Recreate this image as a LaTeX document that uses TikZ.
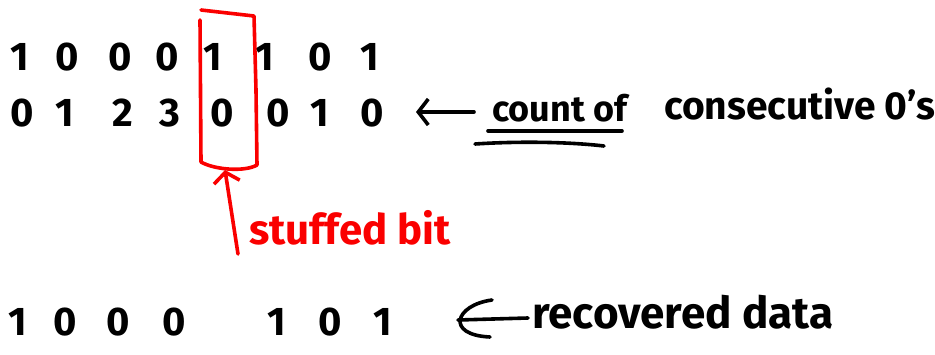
\documentclass[tikz,border=0pt]{standalone}
\usepackage{fontspec}
\setmainfont{Fira Sans}
\usetikzlibrary{arrows.meta}
\tikzset{
  ink/.style={line width=3.6pt, line cap=round, line join=round},
  redink/.style={ink, draw=penred},
  digit/.style={font=\fontsize{40}{40}\selectfont\bfseries, inner sep=0pt, anchor=center},
  note/.style={font=\fontsize{#1}{#1}\selectfont\bfseries, inner sep=0pt},
  barb/.style={-{Straight Barb[length=10pt,width=26pt,line width=3.6pt]}},
}
\definecolor{penred}{RGB}{250,0,0}
\begin{document}
\begin{tikzpicture}[x=1pt,y=-1pt]
\useasboundingbox (0,0) rectangle (935,354);
% top row: stuffed bit stream
\foreach \x/\d [count=\i] in {20/1,67/0,120/0,167/0,213/1,265/1,320/0,370/1}
  \node[digit] (t\i) at (\x,57) {\d};
% second row: running count of consecutive zeros
\foreach \x/\d [count=\i] in {22/0,65/1,123/2,170/3,222/0,278/0,320/1,372/0}
  \node[digit] (c\i) at (\x,113) {\d};
% box around the stuffed bit
\draw[redink] (201,10) -- (254,16) -- (256,90) -- (257,165)
  .. controls (245,172) and (215,170) .. (201,162) -- (200,20);
\coordinate (boxbot) at (225,170);
\node[note=42, text=penred, anchor=west] (stuffed) at (249,228) {stuffed bit};
\coordinate (stuffedtail) at (238,254);
\draw[redink, barb] (stuffedtail) -- (boxbot);
% label for the count row
\node[note=36, anchor=west] (count) at (492,108) {count of};
\coordinate (arrowtip) at (416,112);
\coordinate (arrowtail) at (474,112);
\draw[ink, barb] (arrowtail) -- (arrowtip);
\draw[ink] (488,131) -- (622,131);
\draw[ink] (475,144) .. controls (520,141) and (570,142) .. (604,146);
\node[note=39, anchor=west] (consec) at (664,104) {consecutive 0's};
% recovered data row
\foreach \x/\d [count=\i] in {18/1,65/0,118/0,174/0,277/1,330/0,383/1}
  \node[digit] (r\i) at (\x,322) {\d};
\node[note=44, anchor=west] (recov) at (532,312) {recovered data};
\draw[ink] (492,300) .. controls (455,305) and (445,335) .. (490,337);
\draw[ink] (recov.west) ++(-4,6) -- (458,320);
\end{tikzpicture}
\end{document}
